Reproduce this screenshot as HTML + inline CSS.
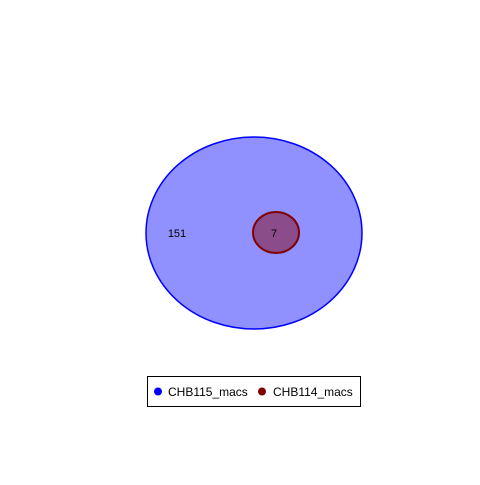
<!DOCTYPE html>
<html><head><meta charset="utf-8"><style>html,body{margin:0;padding:0;background:#fff}</style></head>
<body>
<svg width="480" height="480" viewBox="0 0 480 480" xmlns="http://www.w3.org/2000/svg" font-family="Liberation Sans, sans-serif">
<rect width="480" height="480" fill="#fff"/>
<g id="venn"></g>
<g>
<rect x="147.5" y="376.5" width="213" height="30" fill="#fff" stroke="#000" stroke-width="1"/>
<circle cx="158" cy="391.5" r="4" fill="#0000ff"/>
<text x="168" y="396" font-size="12" fill="#000">CHB115_macs</text>
<circle cx="262" cy="391.5" r="4" fill="#800000"/>
<text x="273" y="396" font-size="12" fill="#000">CHB114_macs</text>
</g>
</svg>
<script>
const setNames = ["CHB115_macs", "CHB114_macs"];
const onlyCounts = [151, 7];
const overlapCount = 0;
const g = document.getElementById('venn');
const NS = 'http://www.w3.org/2000/svg';
const big = document.createElementNS(NS, 'ellipse');
big.setAttribute('cx', 254); big.setAttribute('cy', 233);
big.setAttribute('rx', 108); big.setAttribute('ry', 96);
big.setAttribute('fill', '#9090ff'); big.setAttribute('stroke', '#0000ff'); big.setAttribute('stroke-width', '1.5');


g.appendChild(big);
const small = document.createElementNS(NS, 'ellipse');
small.setAttribute('cx', 276); small.setAttribute('cy', 232.5);
small.setAttribute('rx', 23); small.setAttribute('ry', 20.5);
small.setAttribute('fill', '#8a4c8a'); small.setAttribute('stroke', '#800000'); small.setAttribute('stroke-width', '2');


g.appendChild(small);
const t1 = document.createElementNS(NS, 'text');
t1.setAttribute('x', 177); t1.setAttribute('y', 237); t1.setAttribute('font-size', '11'); t1.setAttribute('text-anchor', 'middle');
t1.textContent = String(onlyCounts[0]);


g.appendChild(t1);
const t2 = document.createElementNS(NS, 'text');
t2.setAttribute('x', 274); t2.setAttribute('y', 237); t2.setAttribute('font-size', '11'); t2.setAttribute('text-anchor', 'middle');
t2.textContent = String(onlyCounts[1]);


g.appendChild(t2);
</script>
</body></html>
